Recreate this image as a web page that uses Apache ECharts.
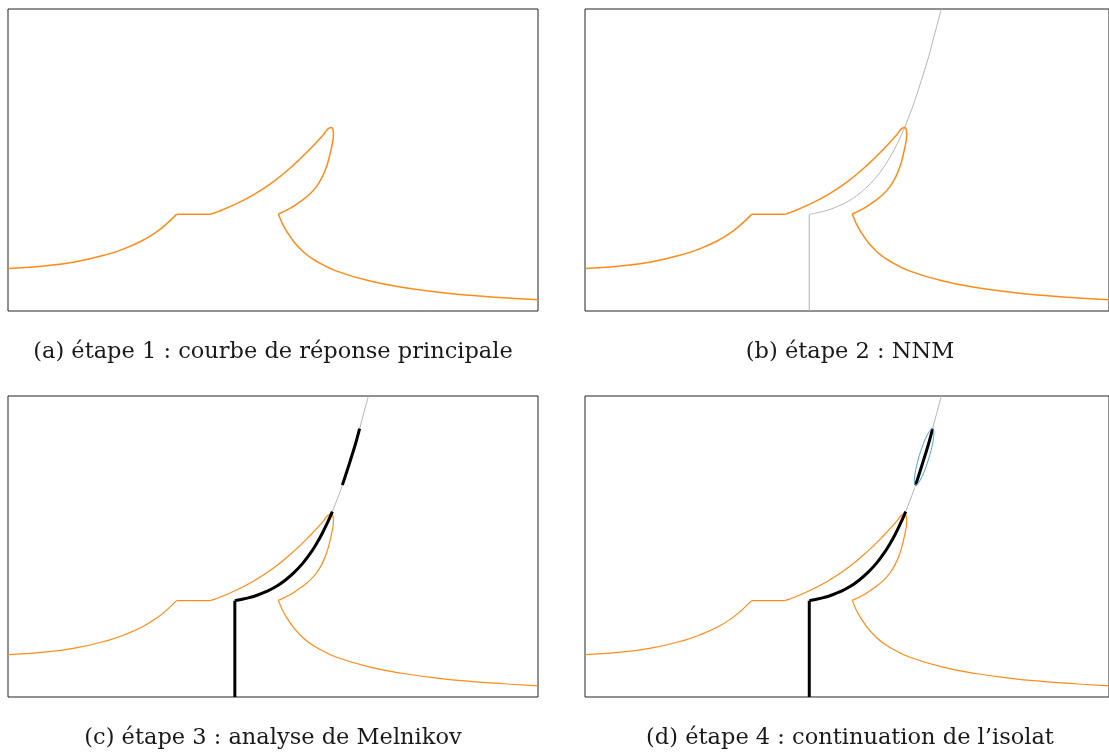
<!DOCTYPE html>
<html>
<head>
<meta charset="utf-8">
<script src="https://cdn.jsdelivr.net/npm/echarts@6/dist/echarts.min.js"></script>
<style>
html,body{margin:0;padding:0;background:#fff;}
#chart{width:1109px;height:753px;}
</style>
</head>
<body>
<div id="chart"></div>
<script>
// Frequency response curve (orange), normalised units 0-100
var responseX = [0, 6.3, 12.6, 18.9, 22.0, 25.2, 27.7, 29.6, 31.8, 38.1, 39.6, 42.5, 46.3, 50.1, 53.8, 57.0, 59.5, 60.3, 60.9, 61.3, 61.4, 61.2, 60.7, 60.1, 59.3, 58.2, 56.8, 55.1, 53.2, 51.0, 52.6, 55.7, 58.9, 62.0, 68.3, 74.6, 80.9, 87.2, 93.5, 100];
var responseY = [14.1, 14.81, 16.24, 18.83, 20.68, 23.17, 25.79, 28.37, 32.0, 32.0, 32.9, 35.05, 38.47, 42.84, 48.21, 53.65, 58.4, 60.2, 60.8, 60.2, 58.3, 55.5, 51.5, 47.8, 44.4, 41.2, 38.5, 36.2, 34.0, 32.1, 26.3, 19.6, 15.8, 13.2, 9.9, 7.8, 6.3, 5.2, 4.4, 3.7];
// indices where the response curve has sharp corners
var responseCorners = [8, 9, 29];
// NNM backbone (grey)
var backboneX = [42.8, 42.8, 44.0, 45.5, 47.0, 48.7, 50.5, 52.3, 54.0, 55.6, 57.0, 58.2, 59.3, 60.3, 61.2, 62.0, 62.8, 63.08, 63.5, 64.2, 64.9, 65.6, 66.2, 66.35, 66.8, 67.4, 68.0];
var backboneY = [0, 32.0, 32.4, 33.0, 33.8, 35.0, 36.6, 38.8, 41.4, 44.4, 47.6, 50.9, 54.4, 58.0, 61.6, 65.2, 68.9, 70.4, 72.6, 76.4, 80.3, 84.3, 88.2, 89.2, 92.2, 96.1, 100];
var backboneCorner = 1;
// Black (Melnikov) branches: index ranges into the backbone
var stableBranch = [0, 14];
var isolaBranch = [17, 23];
// Isola (blue)
var isolaX = [66.350, 66.528, 66.583, 66.510, 66.315, 66.010, 65.618, 65.164, 64.679, 64.198, 63.751, 63.370, 63.080, 62.902, 62.847, 62.920, 63.115, 63.420, 63.812, 64.266, 64.751, 65.232, 65.679, 66.060, 66.350];
var isolaY = [89.200, 88.754, 87.698, 86.105, 84.081, 81.765, 79.316, 76.899, 74.681, 72.811, 71.418, 70.596, 70.400, 70.846, 71.902, 73.495, 75.519, 77.835, 80.284, 82.701, 84.919, 86.789, 88.182, 89.004, 89.200];
// Captions
var captions = [
  '(a) étape 1 : courbe de réponse principale',
  '(b) étape 2 : NNM',
  '(c) étape 3 : analyse de Melnikov',
  '(d) étape 4 : continuation de l\u2019isolat'
];

function pairs(xs, ys, a, b) {
  var out = [];
  for (var i = a; i <= b; i++) out.push([xs[i], ys[i]]);
  return out;
}

var ORANGE = '#ff8c1a', GREY = '#b3b3b3', BLUE = '#4aa3df';
var SM = 0.45;
var grids = [
  {left: 8, top: 9, width: 530, height: 302},
  {left: 585, top: 9, width: 530, height: 302},
  {left: 8, top: 396, width: 530, height: 301},
  {left: 585, top: 396, width: 530, height: 301}
];
var xAxes = [], yAxes = [], series = [];
grids.forEach(function (g, i) {
  g.show = true; g.borderColor = '#222'; g.borderWidth = 1; g.backgroundColor = 'transparent';
  xAxes.push({type: 'value', gridIndex: i, min: 0, max: 100, show: false});
  yAxes.push({type: 'value', gridIndex: i, min: 0, max: 100, show: false});
});
function add(i, data, color, width, z, smooth) {
  series.push({
    type: 'line', xAxisIndex: i, yAxisIndex: i, data: data, showSymbol: false, symbol: 'none',
    smooth: smooth, z: z, animation: false, silent: true,
    lineStyle: {color: color, width: width, cap: 'butt', join: 'round'}
  });
}
function addResponse(i, width) {
  var n = responseX.length - 1;
  var c = responseCorners;
  add(i, pairs(responseX, responseY, 0, c[0]), ORANGE, width, 3, SM);
  add(i, pairs(responseX, responseY, c[0], c[1]), ORANGE, width, 3, false);
  add(i, pairs(responseX, responseY, c[1], c[2]), ORANGE, width, 3, SM);
  add(i, pairs(responseX, responseY, c[2], n), ORANGE, width, 3, SM);
}
function addBackbone(i) {
  add(i, pairs(backboneX, backboneY, 0, backboneCorner), GREY, 1, 2, false);
  add(i, pairs(backboneX, backboneY, backboneCorner, backboneX.length - 1), GREY, 1, 2, SM);
}
function addStable(i) {
  add(i, pairs(backboneX, backboneY, stableBranch[0], backboneCorner), '#000', 3, 4, false);
  add(i, pairs(backboneX, backboneY, backboneCorner, stableBranch[1]), '#000', 3, 4, SM);
}
// (a)
addResponse(0, 1.5);
// (b)
addBackbone(1);
addResponse(1, 1.5);
// (c)
addBackbone(2);
addResponse(2, 1.2);
addStable(2);
add(2, pairs(backboneX, backboneY, isolaBranch[0], isolaBranch[1]), '#000', 3, 4, SM);
// (d)
addBackbone(3);
addResponse(3, 1.2);
addStable(3);
add(3, pairs(backboneX, backboneY, isolaBranch[0], isolaBranch[1]), '#000', 3, 4, SM);
add(3, pairs(isolaX, isolaY, 0, isolaX.length - 1), BLUE, 1, 5, 0.3);

var capPos = [[273, 352], [850, 352], [273, 738], [850, 738]];
var graphic = captions.map(function (t, i) {
  return {
    type: 'text', x: capPos[i][0], y: capPos[i][1], silent: true,
    style: {text: t, fill: '#1a1a1a', font: '22.5px "DejaVu Serif"', textAlign: 'center', textVerticalAlign: 'middle'}
  };
});

var chart = echarts.init(document.getElementById('chart'), null, {renderer: 'canvas'});
chart.setOption({
  animation: false,
  grid: grids, xAxis: xAxes, yAxis: yAxes, series: series, graphic: graphic
});
</script>
</body>
</html>
